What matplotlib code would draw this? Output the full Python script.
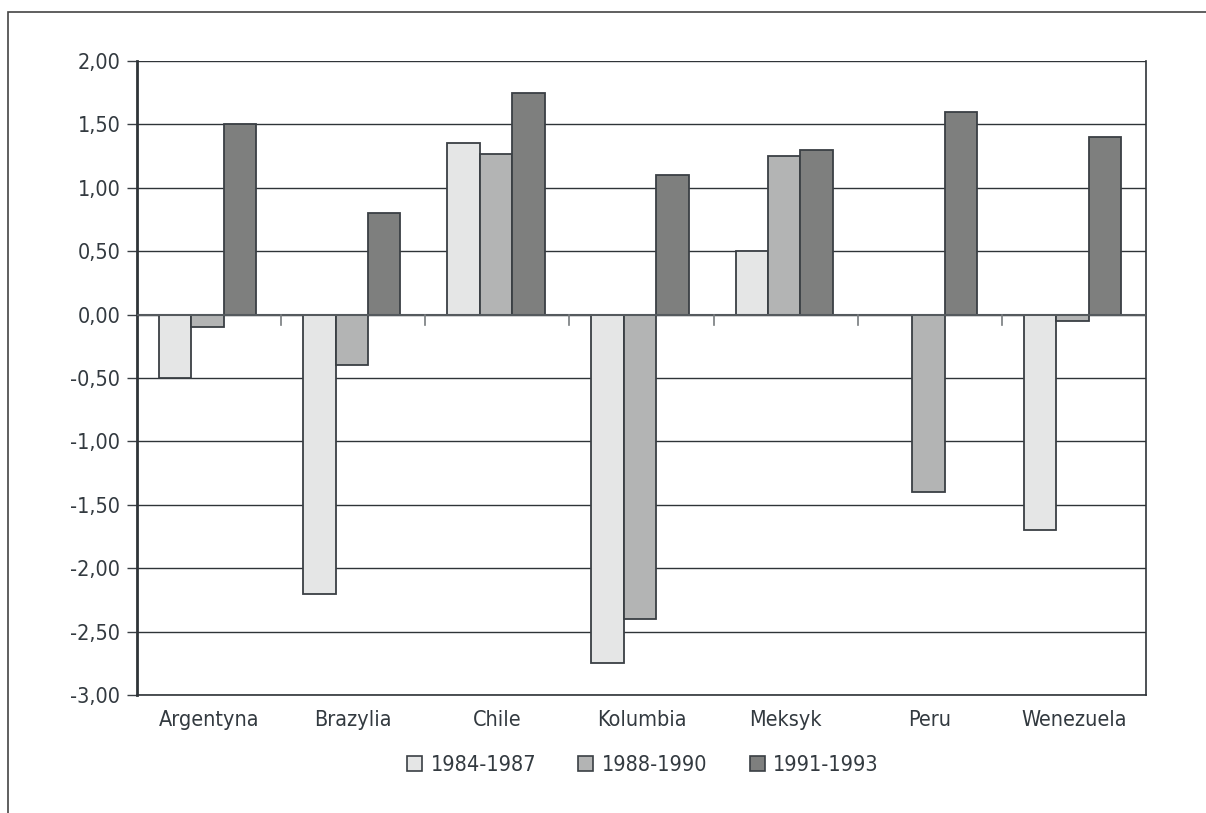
import numpy as np
import matplotlib.pyplot as plt
from matplotlib.patches import Rectangle, Patch

# Country groups and values for the three periods
countries = ['Argentyna', 'Brazylia', 'Chile', 'Kolumbia', 'Meksyk', 'Peru', 'Wenezuela']
periods = ['1984-1987', '1988-1990', '1991-1993']
v_8487 = [-0.50, -2.20, 1.35, -2.75, 0.50, 0.00, -1.70]
v_8890 = [-0.10, -0.40, 1.27, -2.40, 1.25, -1.40, -0.05]
v_9193 = [1.50, 0.80, 1.75, 1.10, 1.30, 1.60, 1.40]
yticks = [2.0, 1.5, 1.0, 0.5, 0.0, -0.5, -1.0, -1.5, -2.0, -2.5, -3.0]

colors = ['#e5e6e6', '#b3b4b4', '#7e7f7e']
edge = '#3a3f44'
text_col = '#333a40'

plt.rcParams['font.family'] = ['DejaVu Sans']
plt.rcParams['font.stretch'] = 'condensed'

fig = plt.figure(figsize=(12.06, 8.13), dpi=100)
ax = fig.add_axes([137 / 1206, 1 - 695 / 813, (1146 - 137) / 1206, (695 - 61) / 813])

# outer frame (runs off the right and bottom edges)
fig.patches.append(Rectangle((8 / 1206, -0.1), 1.2, 1 - 12 / 813 + 0.1, transform=fig.transFigure,
                             fill=False, edgecolor='#444444', linewidth=1.2))

x = np.arange(len(countries))
w = 0.225
for i, vals in enumerate([v_8487, v_8890, v_9193]):
    vals = np.array(vals)
    keep = vals != 0
    ax.bar(x[keep] + (i - 1) * w - 0.01, vals[keep], width=w, color=colors[i],
           edgecolor=edge, linewidth=1.3, zorder=3)

ax.set_xlim(-0.5, len(countries) - 0.5)
ax.set_ylim(-3.0, 2.0)
ax.set_yticks(yticks)
ax.set_yticklabels([f'{t:.2f}'.replace('.', ',') for t in yticks], fontsize=15.5, color=text_col)
for t in yticks:
    ax.axhline(t, color='#2f3438', linewidth=1.0, zorder=1)
ax.axhline(0, color='#555a5e', linewidth=1.5, zorder=4)

# category labels below the plot, boundary ticks on the zero line
ax.set_xticks([])
for xi, name in zip(x, countries):
    ax.text(xi, -3.12, name, ha='center', va='top', fontsize=15.5,
            color=text_col, clip_on=False)
for b in np.arange(0.5, len(countries) - 0.5, 1.0):
    ax.plot([b, b], [0, -0.08], color='#777b7e', linewidth=1.2, zorder=4)

ax.tick_params(axis='y', length=7, width=1.0, color=edge, pad=5)
for side in ['left', 'right', 'bottom', 'top']:
    ax.spines[side].set_color('#2f3438')
ax.spines['left'].set_linewidth(2.0)
ax.spines['right'].set_linewidth(1.2)
ax.spines['bottom'].set_linewidth(1.2)
ax.spines['top'].set_visible(False)

handles = [Patch(facecolor=c, edgecolor=edge, linewidth=1.2) for c in colors]
leg = fig.legend(handles, periods, loc='center', bbox_to_anchor=(643 / 1206, 1 - 765 / 813),
                 ncol=3, frameon=False, fontsize=15.5, handlelength=0.7, handleheight=0.7,
                 handletextpad=0.4, columnspacing=1.95)
for t in leg.get_texts():
    t.set_color(text_col)

fig.savefig('out.png', dpi=100)
